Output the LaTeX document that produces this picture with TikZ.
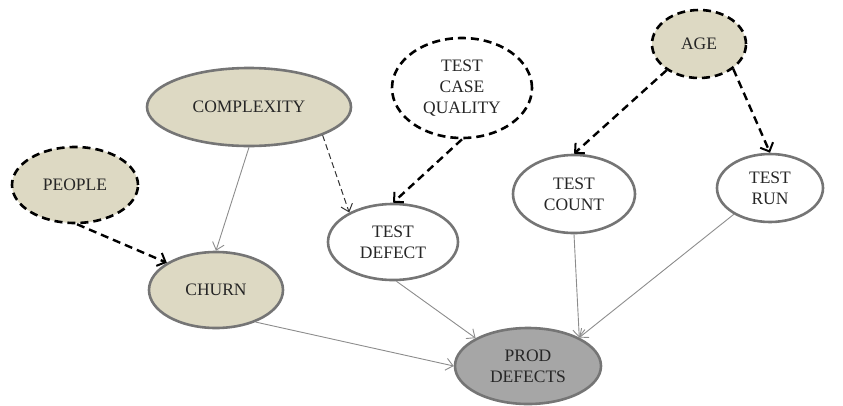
\documentclass[tikz,border=0pt]{standalone}
\usepackage{fontspec}
\setmainfont{Liberation Serif}
\usetikzlibrary{shapes.geometric,arrows.meta}
\definecolor{beige}{HTML}{DDD9C3}
\definecolor{rim}{HTML}{757575}
\definecolor{prodgray}{HTML}{A6A6A6}
\definecolor{wire}{HTML}{8C8C8C}
\begin{document}
\begin{tikzpicture}[x=1pt,y=-1pt,
  every node/.style={font=\fontsize{17.5}{21}\selectfont, align=center, text=black!85},
  var/.style={ellipse, inner sep=0pt, line width=2.6pt, draw=rim},
  latent/.style={ellipse, inner sep=0pt, line width=2.6pt, draw=black,
    dash pattern=on 8pt off 5pt},
  link/.style={draw=wire, line width=0.9pt,
    -{Straight Barb[length=7pt,width=12pt,line width=0.9pt]}},
  hidden/.style={draw=black, line width=2.4pt, dash pattern=on 8pt off 5pt,
    -{Straight Barb[length=7pt,width=14pt,line width=2pt]}},
  weak/.style={draw=black!80, line width=1pt, dash pattern=on 6pt off 3.5pt,
    -{Straight Barb[length=7pt,width=12pt,line width=1pt]}}]
\useasboundingbox (0,0) rectangle (843,405);

% nodes
\node[var, fill=beige, minimum width=204pt, minimum height=78pt] (cplx) at (249,107) {COMPLEXITY};
\node[latent, fill=beige, minimum width=126pt, minimum height=76pt] (people) at (75,185) {PEOPLE};
\node[var, fill=beige, minimum width=134pt, minimum height=76pt] (churn) at (216,290) {CHURN};
\node[var, fill=white, minimum width=130pt, minimum height=76pt] (tdef) at (393,242) {TEST\\DEFECT};
\node[latent, fill=white, minimum width=140pt, minimum height=100pt] (tcq) at (462,88) {TEST\\CASE\\QUALITY};
\node[latent, fill=beige, minimum width=94pt, minimum height=68pt] (age) at (699,44) {AGE};
\node[var, fill=white, minimum width=122pt, minimum height=78pt] (tcount) at (574,194) {TEST\\COUNT};
\node[var, fill=white, minimum width=106pt, minimum height=68pt] (trun) at (770,188) {TEST\\RUN};
\node[var, fill=prodgray, minimum width=146pt, minimum height=76pt] (prod) at (528,366) {PROD\\DEFECTS};

% connectors
\draw[link] (cplx.south) -- (churn.north);
\draw[weak] (cplx.-21) -- (tdef.146);
\draw[hidden] (people.-87) -- (churn.151);
\draw[hidden] (tcq.south) -- (tdef.north);
\draw[hidden] (age.-141) -- (tcount.north);
\draw[hidden] (age.-36) -- (trun.north);
\draw[link] (tdef.-85) -- (prod.152);
\draw[link] (tcount.south) -- (prod.29);
\draw[link] (trun.-144) -- (prod.29);
\draw[link] (churn.-39) -- (prod.west);
\end{tikzpicture}
\end{document}
